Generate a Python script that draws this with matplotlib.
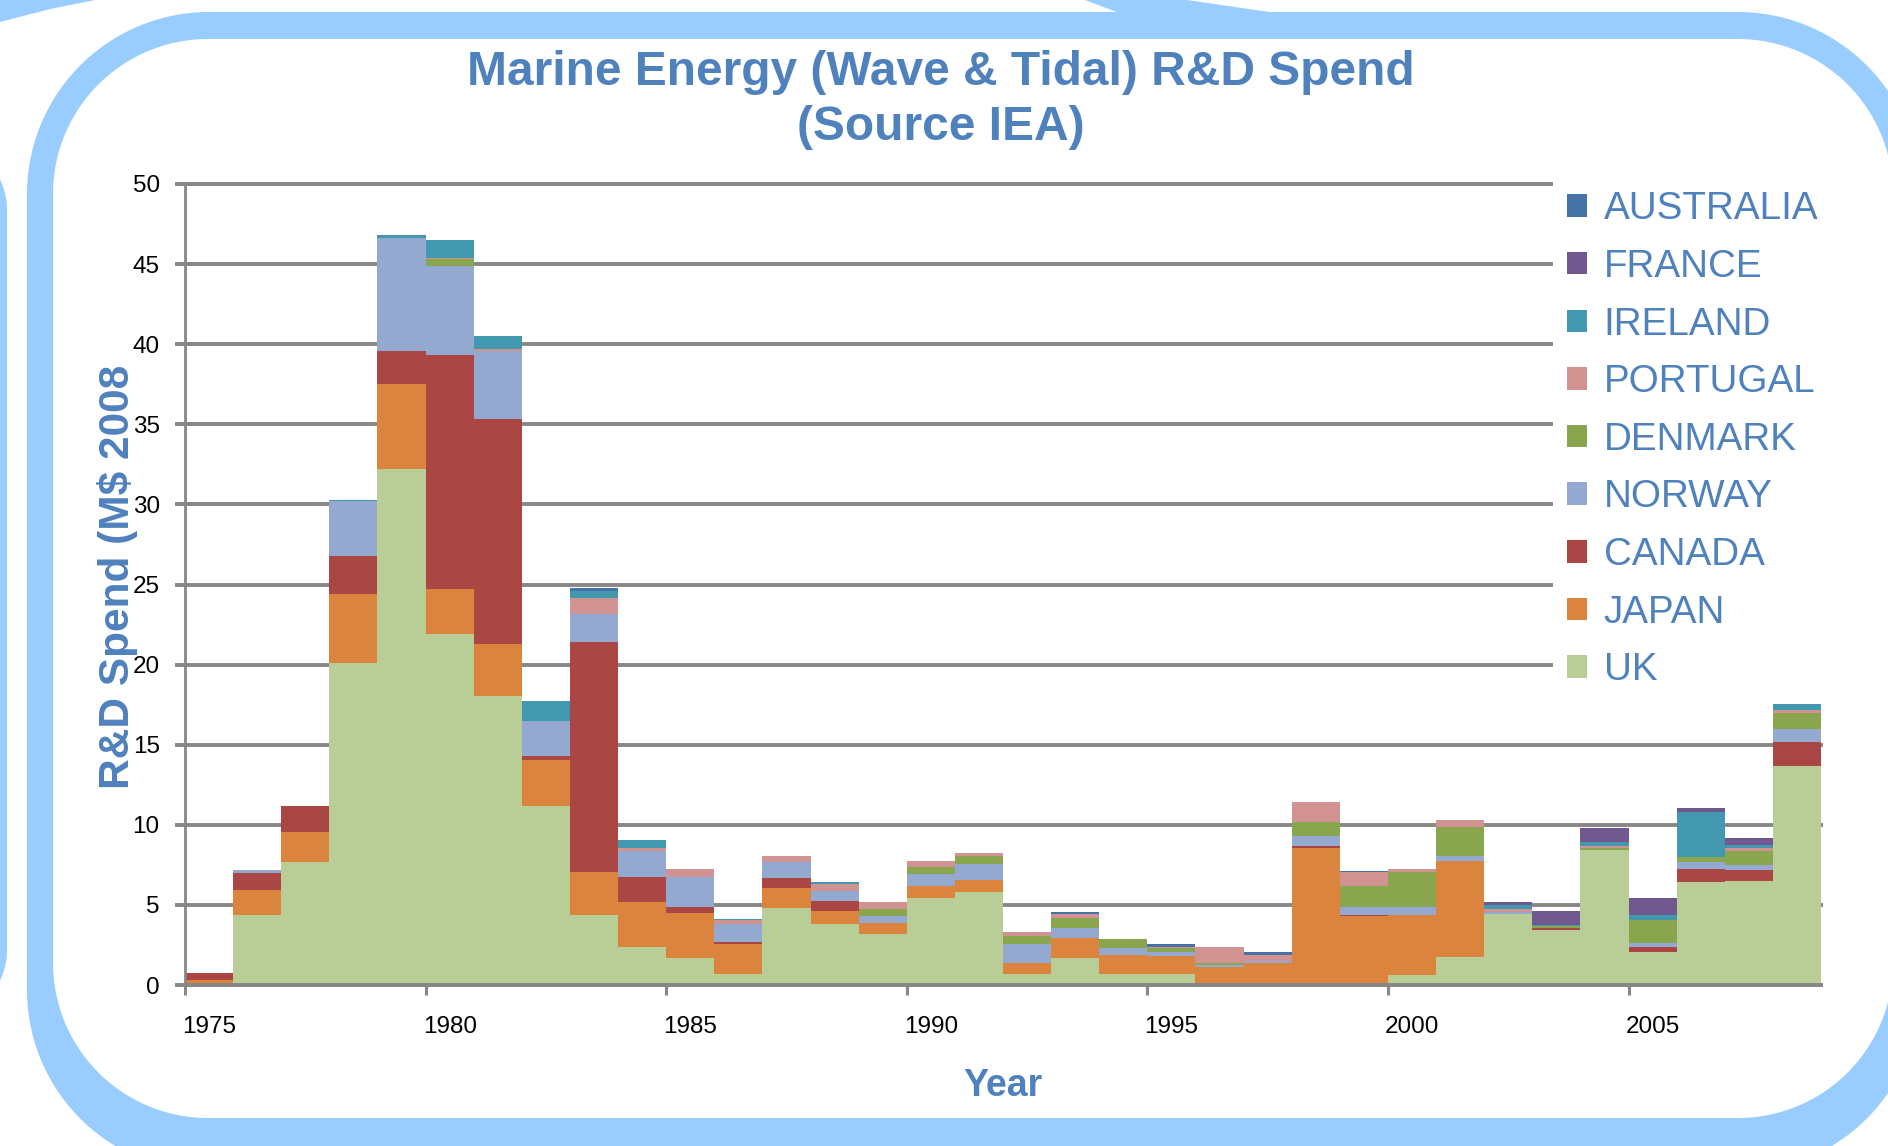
import matplotlib
matplotlib.use("Agg")
import matplotlib.pyplot as plt
import numpy as np
from matplotlib.patches import Polygon

plt.rcParams["font.family"] = ["Liberation Sans", "DejaVu Sans"]

# IEA marine energy R&D spend, M$ 2008, one value per year 1975..2008
years = np.arange(1975, 2009)
uk = [0, 4.4, 7.66, 20.07, 32.2, 21.9, 18.07, 11.2, 4.4, 2.4,
      1.67, 0.67, 4.79, 3.79, 3.17, 5.42, 5.79, 0.67, 1.67, 0.67,
      0.67, 0, 0, 0, 0, 0.62, 1.77, 4.42, 3.42, 8.42,
      2.04, 6.4, 6.52, 13.65]
japan = [0.3, 1.53, 1.9, 4.33, 5.3, 2.8, 3.23, 2.87, 2.65, 2.75,
         2.85, 1.87, 1.25, 0.86, 0.73, 0.75, 0.75, 0.73, 1.25, 1.23,
         1.12, 1.15, 1.37, 8.54, 4.29, 3.75, 6.0, 0, 0, 0,
         0, 0, 0, 0]
canada = [0.45, 1.07, 1.63, 2.4, 2.1, 14.6, 14.0, 0.23, 14.35, 1.62,
          0.38, 0.13, 0.61, 0.62, 0, 0, 0, 0, 0, 0,
          0, 0, 0, 0.13, 0.11, 0, 0, 0, 0.12, 0,
          0.33, 0.87, 0.63, 1.5]
norway = [0, 0.15, 0, 3.4, 7.0, 5.6, 4.3, 2.2, 1.77, 1.6,
          1.87, 1.12, 1.0, 0.61, 0.39, 0.75, 1.0, 1.14, 0.62, 0.39,
          0.25, 0.1, 0.15, 0.6, 0.47, 0.5, 0.27, 0.12, 0, 0,
          0.27, 0.38, 0.37, 0.85]
denmark = [0, 0, 0, 0, 0, 0.4, 0, 0, 0, 0,
           0, 0, 0, 0, 0.48, 0.45, 0.5, 0.5, 0.63, 0.61,
           0.25, 0.1, 0, 0.88, 1.3, 2.17, 1.83, 0, 0.13, 0.12,
           1.4, 0.37, 0.85, 0.98]
portugal = [0, 0, 0, 0, 0, 0.1, 0.1, 0, 1.0, 0.17,
            0.5, 0.25, 0.39, 0.41, 0.38, 0.4, 0.23, 0.25, 0.25, 0,
            0.11, 1.05, 0.37, 1.25, 0.87, 0.23, 0.4, 0.23, 0, 0.11,
            0, 0, 0.17, 0.17]
ireland = [0, 0, 0, 0.05, 0.2, 1.1, 0.8, 1.2, 0.45, 0.48,
           0, 0.11, 0, 0.11, 0, 0, 0, 0, 0, 0,
           0, 0, 0, 0, 0, 0, 0, 0.25, 0.1, 0.25,
           0.36, 2.75, 0.21, 0.37]
france = [0] * 27 + [0.13, 0.88, 0.87, 1.0, 0.25, 0.4, 0]
australia = [0, 0, 0, 0, 0, 0, 0, 0, 0.15, 0,
             0, 0, 0, 0, 0, 0, 0, 0, 0.12, 0,
             0.14, 0, 0.14, 0, 0.09, 0, 0, 0, 0, 0,
             0, 0, 0, 0]

countries = ["UK", "JAPAN", "CANADA", "NORWAY", "DENMARK",
             "PORTUGAL", "IRELAND", "FRANCE", "AUSTRALIA"]
series = [uk, japan, canada, norway, denmark, portugal, ireland, france, australia]
colors = ["#B9CD96", "#DB843D", "#AA4643", "#93A9CF", "#89A54E",
          "#D09392", "#4198AF", "#71588F", "#4572A7"]

BLUE = "#4F81BD"
FRAME = "#99CCFF"
GRID = "#878787"

W, H = 1888, 1146


def rounded_rect(x0, y0, x1, y1, r, n=40):
    """Outline of a rectangle with circular corners of radius r."""
    pts = []
    for cx, cy, a0 in ((x1 - r, y0 + r, -90), (x1 - r, y1 - r, 0),
                       (x0 + r, y1 - r, 90), (x0 + r, y0 + r, 180)):
        t = np.radians(np.linspace(a0, a0 + 90, n))
        pts.append(np.column_stack([cx + r * np.cos(t), cy + r * np.sin(t)]))
    return np.vstack(pts)


fig = plt.figure(figsize=(W / 100, H / 100), dpi=100)

# rounded slide frame behind the chart (pixel coordinates, y down)
bg = fig.add_axes([0, 0, 1, 1], zorder=-1)
bg.set_xlim(0, W)
bg.set_ylim(H, 0)
bg.axis("off")
bg.add_patch(Polygon(rounded_rect(-300, 140, 7, 1020, 70), fc=FRAME, ec="none"))
bg.add_patch(Polygon([(0, 0), (95, 0), (50, 9), (0, 22)], fc=FRAME, ec="none"))
bg.add_patch(Polygon([(1085, 0), (1187, 0), (1235, 7), (1283, 14), (1122, 14)],
                     fc=FRAME, ec="none"))
bg.add_patch(Polygon(rounded_rect(27, 12, 1920, 1172, 182), fc=FRAME, ec="none"))
bg.add_patch(Polygon(rounded_rect(53, 39, 1893, 1118, 155), fc="white", ec="none"))

ax = fig.add_axes([185 / W, 1 - 985 / H, 1636 / W, 801 / H])
ax.set_facecolor("none")

bottom = np.zeros(len(years))
bars = []
for name, vals, col in zip(countries, series, colors):
    vals = np.array(vals, dtype=float)
    b = ax.bar(years, vals, width=1.0, align="edge", bottom=bottom,
               color=col, linewidth=0, label=name)
    bars.append(b)
    bottom += vals

ax.set_xlim(1975, 2009)
ax.set_ylim(0, 50)
ax.set_axisbelow(True)

ax.set_yticks(np.arange(0, 51, 5))
ax.yaxis.grid(True, color=GRID, lw=2.8)
for gl in ax.get_ygridlines():
    gl.set_clip_on(False)

# tick marks sit between years, labels under the year's bar
major_x = np.arange(1975, 2006, 5)
ax.set_xticks(major_x)
ax.set_xticklabels([""] * len(major_x))
ax.set_xticks(major_x + 0.5, minor=True)
ax.set_xticklabels([str(y) for y in major_x], minor=True)
ax.tick_params(axis="x", which="major", length=7.2, width=2.2, color=GRID)
ax.tick_params(axis="x", which="minor", length=0, pad=22, labelsize=17.5)
ax.tick_params(axis="y", length=7.2, width=2.8, color=GRID, pad=11,
               labelsize=17.5)

for side in ("top", "right"):
    ax.spines[side].set_visible(False)
ax.spines["left"].set_color(GRID)
ax.spines["left"].set_linewidth(2.0)
ax.spines["bottom"].set_color(GRID)
ax.spines["bottom"].set_linewidth(2.8)

fig.text(941 / W, 1 - 85 / H, "Marine Energy (Wave & Tidal) R&D Spend",
         ha="center", va="baseline", fontsize=34.5, fontweight="bold", color=BLUE)
fig.text(941 / W, 1 - 140 / H, "(Source IEA)",
         ha="center", va="baseline", fontsize=34.5, fontweight="bold", color=BLUE)
fig.text(118 / W, 1 - 577 / H, "R&D Spend (M$ 2008", rotation=90,
         ha="center", va="center", fontsize=30.5, fontweight="bold", color=BLUE)
fig.text(1003 / W, 1 - 1096 / H, "Year", ha="center", va="baseline",
         fontsize=27, fontweight="bold", color=BLUE)

leg = ax.legend(bars[::-1], countries[::-1], loc="upper left",
                bbox_to_anchor=(1553 / W, 1 - 177 / H),
                bbox_transform=fig.transFigure, borderaxespad=0,
                fontsize=27.8, labelcolor=BLUE, frameon=True, fancybox=False,
                framealpha=1, facecolor="white", edgecolor="none",
                handlelength=0.52, handleheight=0.52, handletextpad=0.42,
                borderpad=0.37, labelspacing=0.56)

fig.savefig("out.png", dpi=100)
